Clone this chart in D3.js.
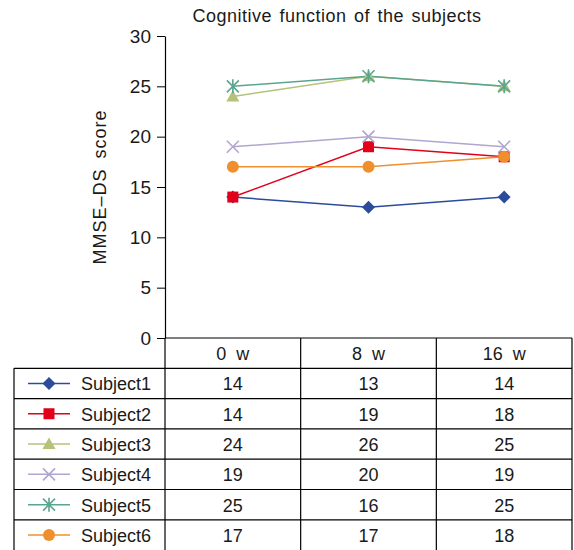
<!DOCTYPE html>
<html>
<head>
<meta charset="utf-8">
<script src="https://cdn.jsdelivr.net/npm/d3@7"></script>
<style>
  html, body { margin: 0; padding: 0; background: #fff; }
  svg { display: block; }
  text { font-family: "Liberation Sans", Arial, sans-serif; fill: #1a1a1a; white-space: pre; }
</style>
</head>
<body>
<svg id="chart" width="574" height="550"></svg>
<script>
// ---- data ----
const categories = ["0  w", "8  w", "16  w"];
const seriesNames = ["Subject1", "Subject2", "Subject3", "Subject4", "Subject5", "Subject6"];
const subject1 = [14, 13, 14];
const subject2 = [14, 19, 18];
const subject3 = [24, 26, 25];
const subject4 = [19, 20, 19];
const subject5 = [25, 26, 25];
const subject6 = [17, 17, 18];
// table text as printed in the source (Subject5 at 8 w is printed as 16)
const tableSubject5 = ["25", "16", "25"];
const yTicks = [0, 5, 10, 15, 20, 25, 30];
const colors = ["#2b4c9b", "#e2001a", "#b5c27a", "#b2a5cf", "#5aa58f", "#ef8f2e"];
const symbolsKind = ["diamond", "square", "triangle", "cross", "asterisk", "circle"];

const values = [subject1, subject2, subject3, subject4, subject5, subject6];
const tableText = values.map((v, i) => i === 4 ? tableSubject5 : v.map(String));

// ---- layout ----
const svg = d3.select("#chart");
const mLeft = 165, mRight = 572, mTop = 36, mBottom = 338;
const rowH = 30.3;
const tableLeft = 14;

const x = d3.scaleBand().domain(categories).range([mLeft, mRight]).padding(0);
const y = d3.scaleLinear().domain([0, 30]).range([mBottom, mTop]);

// title
svg.append("text")
  .attr("x", 337).attr("y", 22)
  .attr("text-anchor", "middle")
  .style("font-size", "18px")
  .style("letter-spacing", "0.5px")
  .style("word-spacing", "2px")
  .text("Cognitive function of the subjects");

// y axis
const yAxis = d3.axisLeft(y).tickValues(yTicks).tickSize(8).tickSizeOuter(0).tickFormat(d3.format("d"));
const gy = svg.append("g").attr("transform", `translate(${mLeft},0)`).call(yAxis);
gy.select(".domain").attr("stroke", "#000").attr("stroke-width", 1.2);
gy.selectAll(".tick line").attr("stroke", "#000").attr("stroke-width", 1);
gy.selectAll(".tick text")
  .attr("x", -14)
  .style("font-family", "'Liberation Sans', Arial, sans-serif")
  .style("font-size", "19px")
  .attr("fill", "#1a1a1a");

// y label
svg.append("text")
  .attr("transform", `translate(106,${(mTop + mBottom) / 2}) rotate(-90)`)
  .attr("text-anchor", "middle")
  .style("font-size", "18px")
  .style("letter-spacing", "1px")
  .style("word-spacing", "4px")
  .text("MMSE\u2013DS score");

// symbol helper
function drawSymbol(g, kind, cx, cy, color) {
  const s = g.append("g").attr("transform", `translate(${cx},${cy})`);
  if (kind === "diamond") {
    s.append("path").attr("d", "M0,-6.5L6.5,0L0,6.5L-6.5,0Z").attr("fill", color);
  } else if (kind === "square") {
    s.append("rect").attr("x", -5.5).attr("y", -5.5).attr("width", 11).attr("height", 11).attr("fill", color);
  } else if (kind === "triangle") {
    s.append("path").attr("d", "M0,-6.5L6.5,5L-6.5,5Z").attr("fill", color);
  } else if (kind === "cross") {
    s.append("path").attr("d", "M-6,-6L6,6M-6,6L6,-6").attr("stroke", color).attr("stroke-width", 1.6).attr("fill", "none");
  } else if (kind === "asterisk") {
    s.append("path").attr("d", "M-6,-6L6,6M-6,6L6,-6M0,-7L0,7").attr("stroke", color).attr("stroke-width", 1.6).attr("fill", "none");
  } else if (kind === "circle") {
    s.append("circle").attr("r", 6).attr("fill", color);
  }
}

// lines and markers
const line = d3.line().x((d, i) => x(categories[i]) + x.bandwidth() / 2).y(d => y(d));
const plot = svg.append("g");
values.forEach((vals, si) => {
  plot.append("path").datum(vals)
    .attr("d", line)
    .attr("fill", "none")
    .attr("stroke", colors[si])
    .attr("stroke-width", 1.5);
});
values.forEach((vals, si) => {
  vals.forEach((v, i) => {
    drawSymbol(plot, symbolsKind[si], x(categories[i]) + x.bandwidth() / 2, y(v), colors[si]);
  });
});

// ---- table ----
const table = svg.append("g");
const lineColor = "#000";
const nRows = seriesNames.length;
const tableBottom = mBottom + rowH * (nRows + 1);
table.append("line").attr("x1", mLeft).attr("x2", mRight).attr("y1", mBottom).attr("y2", mBottom)
  .attr("stroke", lineColor).attr("stroke-width", 1.2);
for (let r = 1; r <= nRows; r++) {
  const yy = mBottom + rowH * r;
  table.append("line").attr("x1", tableLeft).attr("x2", mRight).attr("y1", yy).attr("y2", yy)
    .attr("stroke", lineColor).attr("stroke-width", 1.2);
}
table.append("line").attr("x1", tableLeft).attr("x2", tableLeft).attr("y1", mBottom + rowH).attr("y2", tableBottom)
  .attr("stroke", lineColor).attr("stroke-width", 1.2);
[mLeft, ...categories.map(c => x(c) + x.bandwidth())].forEach(xx => {
  table.append("line").attr("x1", xx).attr("x2", xx).attr("y1", mBottom).attr("y2", tableBottom)
    .attr("stroke", lineColor).attr("stroke-width", 1.2);
});
categories.forEach(c => {
  table.append("text")
    .attr("x", x(c) + x.bandwidth() / 2).attr("y", mBottom + rowH / 2 + 7)
    .attr("text-anchor", "middle")
    .style("font-size", "18px")
    .text(c);
});
seriesNames.forEach((name, si) => {
  const cy = mBottom + rowH * (si + 1) + rowH / 2;
  table.append("line").attr("x1", 28).attr("x2", 70).attr("y1", cy).attr("y2", cy)
    .attr("stroke", colors[si]).attr("stroke-width", 1.5);
  drawSymbol(table, symbolsKind[si], 49, cy, colors[si]);
  table.append("text").attr("x", 81).attr("y", cy + 7)
    .style("font-size", "18px").text(name);
  tableText[si].forEach((t, i) => {
    table.append("text")
      .attr("x", x(categories[i]) + x.bandwidth() / 2).attr("y", cy + 7)
      .attr("text-anchor", "middle")
      .style("font-size", "18px")
      .text(t);
  });
});
</script>
</body>
</html>
